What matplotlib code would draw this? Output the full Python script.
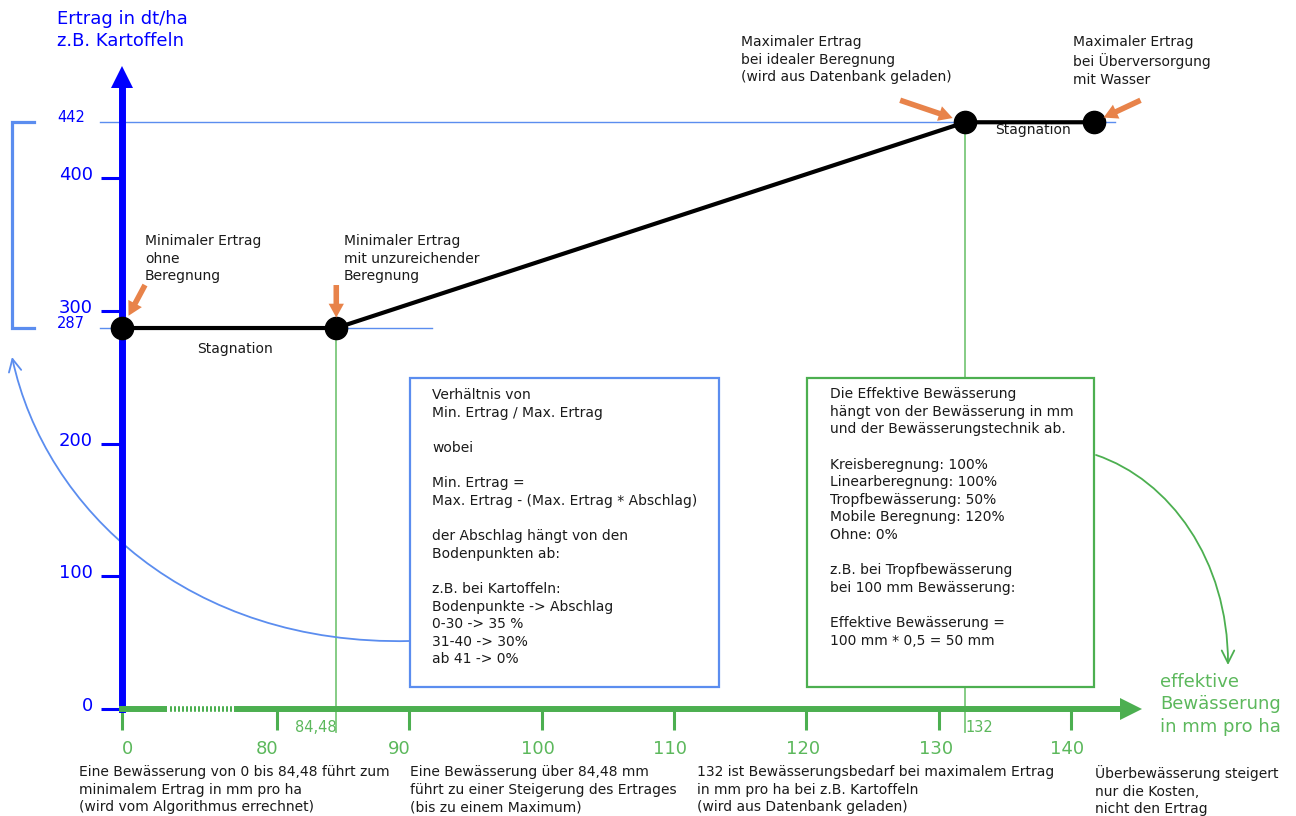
import numpy as np
import matplotlib
matplotlib.use("Agg")
import matplotlib.pyplot as plt
import matplotlib.transforms as mtransforms
from matplotlib.patches import Rectangle, FancyArrowPatch
from matplotlib.path import Path

# ---------------- data ----------------
irrigation_mm = [0, 84.48, 132, 141.7]      # effektive Bewässerung (mm/ha)
yield_dt = [287, 287, 442, 442]             # Ertrag (dt/ha)
x_ticks = [0, 80, 90, 100, 110, 120, 130, 140]
y_ticks = [0, 100, 200, 300, 400]
min_yield = 287
max_yield = 442
min_irrig = 84.48
opt_irrig = 132
x_break = (23.2, 57.8)                      # unterbrochener Abschnitt der x-Achse

# ---------------- colours ----------------
BLUE = "#0000ff"
LBLUE = "#5b8def"
GREEN = "#4caf50"
GREEN_TXT = "#5cb85c"
LGREEN = "#7cc87c"
ORANGE = "#e8834a"
TXT = "#1a1a1a"
LS = 1.33

W, H = 1296, 816
fig = plt.figure(figsize=(W / 100, H / 100), dpi=100)
ax = fig.add_axes([0, 0, 1, 1])

BREAK = 80.0
K = 0.1464  # compression of 0..80


def fwd(x):
    x = np.asarray(x, float)
    return np.where(x >= BREAK, x, BREAK - (BREAK - x) * K)


def inv(t):
    t = np.asarray(t, float)
    return np.where(t >= BREAK, t, BREAK - (BREAK - t) / K)


ax.set_xscale("function", functions=(fwd, inv))
ax.set_xlim(float(inv(59.07)), 157.0)
ax.set_ylim(-80.6, 534.1)

# pixel helper transforms (layout of annotations)
pix = mtransforms.Affine2D().scale(1, -1).translate(0, H)
px_data = mtransforms.blended_transform_factory(pix, ax.transData)   # x pixel, y data
data_px = mtransforms.blended_transform_factory(ax.transData, pix)   # x data, y pixel

# ---------------- axes ----------------
for s in ["top", "right"]:
    ax.spines[s].set_visible(False)
ax.spines["left"].set_position(("data", 0))
ax.spines["bottom"].set_position(("data", 0))
ax.spines["left"].set_bounds(0, 470)
ax.spines["bottom"].set_bounds(0, 143.7)
ax.spines["left"].set_color(BLUE)
ax.spines["left"].set_linewidth(5)
ax.spines["bottom"].set_color(GREEN)
ax.spines["bottom"].set_linewidth(4.3)
ax.spines["bottom"].set_zorder(3)

ax.set_xticks(x_ticks, [str(v) for v in x_ticks])
ax.set_yticks(y_ticks, [str(v) for v in y_ticks])
ax.tick_params(axis="x", direction="out", length=15, width=2.2, color=GREEN,
               labelcolor=GREEN_TXT, labelsize=13, pad=7)
ax.tick_params(axis="y", direction="out", length=15, width=2.2, color=BLUE,
               labelcolor=BLUE, labelsize=13, pad=6)
up = mtransforms.ScaledTranslation(0, 0.05, fig.dpi_scale_trans)
for lab in ax.get_yticklabels():
    lab.set_transform(lab.get_transform() + up)
x_label_shift_px = [6, -10, -10, -4, -4, -3, -3, -4]
for lab, dx in zip(ax.get_xticklabels(), x_label_shift_px):
    lab.set_transform(lab.get_transform() +
                      mtransforms.ScaledTranslation(dx / 100, 0, fig.dpi_scale_trans))

# arrow heads
ax.plot([0], [476.4], marker="^", ms=16.5, color=BLUE, mew=0, zorder=4, clip_on=False)
ax.plot([144.5], [0], marker=">", ms=16, color=GREEN, mew=0, zorder=4, clip_on=False)

# broken part of the x axis
ax.plot(x_break, [0, 0], color="white", lw=6, zorder=3.5, solid_capstyle="butt")
ax.plot([x_break[0] + 1.6, x_break[1] - 1.0], [0, 0], color=GREEN, lw=4,
        linestyle=(0, (0.36, 0.36)), zorder=3.6, dash_capstyle="butt")

# ---------------- guide lines ----------------
ax.plot([100, 1115], [max_yield, max_yield], transform=px_data, color=LBLUE, lw=1, zorder=1)
ax.plot([100, 432], [min_yield, min_yield], transform=px_data, color=LBLUE, lw=1, zorder=1)
ax.plot([min_irrig, min_irrig], [min_yield, -17], color=LGREEN, lw=1.3, zorder=1)
ax.plot([opt_irrig, opt_irrig], [max_yield, -17], color=LGREEN, lw=1.3, zorder=1)

# value labels
up5 = mtransforms.ScaledTranslation(0, 0.05, fig.dpi_scale_trans)
ax.text(57, max_yield, str(max_yield), transform=px_data + up5, ha="left", va="center",
        color=BLUE, fontsize=10.5)
ax.text(57, min_yield, str(min_yield), transform=px_data + up5, ha="left", va="center",
        color=BLUE, fontsize=10.5)
ax.text(min_irrig, 727, "84,48", transform=data_px, ha="right", va="center",
        color=GREEN_TXT, fontsize=10.5)
ax.text(opt_irrig, 727, "132", transform=data_px, ha="left", va="center",
        color=GREEN_TXT, fontsize=10.5)

# bracket
ax.plot([34, 12, 12, 34], [max_yield, max_yield, min_yield, min_yield], transform=px_data,
        color=LBLUE, lw=2.3, solid_joinstyle="miter")

# ---------------- yield curve ----------------
ax.plot(irrigation_mm, yield_dt, color="black", lw=3, zorder=5)
ax.plot(irrigation_mm, yield_dt, "o", ms=16, color="black", zorder=6)


def orange(xy, off, shrink):
    ax.annotate("", xy=xy, xytext=off, textcoords="offset pixels",
                arrowprops=dict(arrowstyle="simple,head_length=0.5,head_width=0.55,tail_width=0.2",
                                mutation_scale=20, fc=ORANGE, ec="none", lw=0,
                                shrinkA=0, shrinkB=shrink), zorder=7)


orange((irrigation_mm[0], yield_dt[0]), (23, 43), 10)
orange((irrigation_mm[1], yield_dt[1]), (0, 43), 7.5)
orange((irrigation_mm[2], yield_dt[2]), (-65, 22), 9.5)
orange((irrigation_mm[3], yield_dt[3]), (47, 22), 8)

# ---------------- texts ----------------
fs = 10


def txt(x, y, s, **kw):
    d = dict(transform=pix, ha="left", va="top", color=TXT, fontsize=fs, linespacing=LS)
    d.update(kw)
    ax.text(x, y, s, **d)


txt(57, 10, "Ertrag in dt/ha\nz.B. Kartoffeln", color=BLUE, fontsize=13, linespacing=1.31)
txt(1160, 673, "effektive\nBewässerung\nin mm pro ha", color=GREEN_TXT, fontsize=13,
    linespacing=1.31)

txt(145, 234, "Minimaler Ertrag\nohne\nBeregnung")
txt(344, 234, "Minimaler Ertrag\nmit unzureichender\nBeregnung")
txt(741, 35, "Maximaler Ertrag\nbei idealer Beregnung\n(wird aus Datenbank geladen)")
txt(1073, 35, "Maximaler Ertrag\nbei Überversorgung\nmit Wasser")
txt(235, 349, "Stagnation", ha="center", va="center")
txt(1033, 130, "Stagnation", ha="center", va="center")

txt(79, 765, "Eine Bewässerung von 0 bis 84,48 führt zum\nminimalem Ertrag in mm pro ha\n"
    "(wird vom Algorithmus errechnet)")
txt(410, 765, "Eine Bewässerung über 84,48 mm\nführt zu einer Steigerung des Ertrages\n"
    "(bis zu einem Maximum)")
txt(697, 765, "132 ist Bewässerungsbedarf bei maximalem Ertrag\nin mm pro ha bei z.B. Kartoffeln\n"
    "(wird aus Datenbank geladen)")
txt(1095, 765, "Überbewässerung steigert\nnur die Kosten,\nnicht den Ertrag")

# boxes
ax.add_patch(Rectangle((410, 378), 309, 309, transform=pix, fc="white", ec=LBLUE, lw=1.6, zorder=8))
ax.add_patch(Rectangle((807, 378), 287, 309, transform=pix, fc="white", ec=GREEN, lw=1.6, zorder=8))

blue_box = ("Verhältnis von\nMin. Ertrag / Max. Ertrag\n\nwobei\n\nMin. Ertrag =\n"
            "Max. Ertrag - (Max. Ertrag * Abschlag)\n\nder Abschlag hängt von den\n"
            "Bodenpunkten ab:\n\nz.B. bei Kartoffeln:\nBodenpunkte -> Abschlag\n"
            "0-30 -> 35 %\n31-40 -> 30%\nab 41 -> 0%")
green_box = ("Die Effektive Bewässerung\nhängt von der Bewässerung in mm\n"
             "und der Bewässerungstechnik ab.\n\nKreisberegnung: 100%\nLinearberegnung: 100%\n"
             "Tropfbewässerung: 50%\nMobile Beregnung: 120%\nOhne: 0%\n\n"
             "z.B. bei Tropfbewässerung\nbei 100 mm Bewässerung:\n\n"
             "Effektive Bewässerung =\n100 mm * 0,5 = 50 mm")
txt(432, 388, blue_box, zorder=9)
txt(830, 387, green_box, zorder=9)

# curved arrows
bpath = Path([(410, 641), (190, 646), (45, 510), (12, 357)],
             [Path.MOVETO, Path.CURVE4, Path.CURVE4, Path.CURVE4])
ax.add_patch(FancyArrowPatch(path=bpath, transform=pix, arrowstyle="->,head_length=0.6,head_width=0.3",
                             mutation_scale=15, color=LBLUE, lw=1.3, zorder=2))
gpath = Path([(1096, 455), (1170, 480), (1228, 560), (1228, 665)],
             [Path.MOVETO, Path.CURVE4, Path.CURVE4, Path.CURVE4])
ax.add_patch(FancyArrowPatch(path=gpath, transform=pix, arrowstyle="->,head_length=0.6,head_width=0.3",
                             mutation_scale=15, color=GREEN, lw=1.3, zorder=2))

fig.savefig("out.png", dpi=100, facecolor="white")
